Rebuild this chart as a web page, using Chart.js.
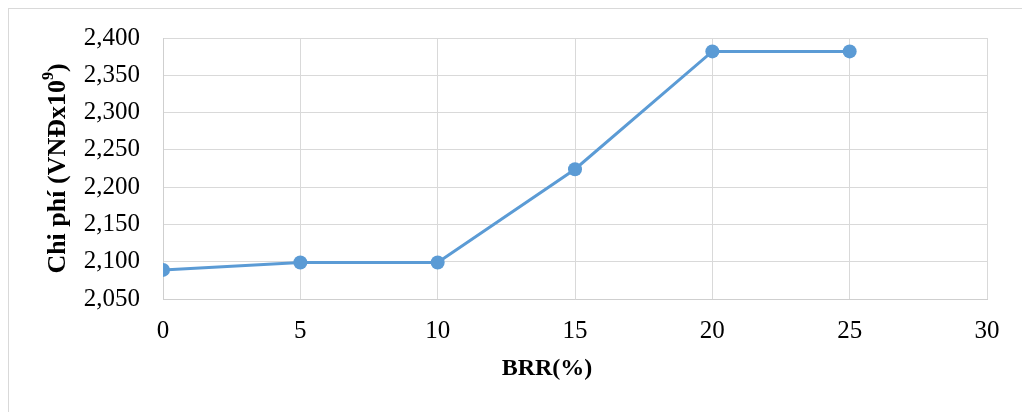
<!DOCTYPE html>
<html>
<head>
<meta charset="utf-8">
<script src="https://cdn.jsdelivr.net/npm/chart.js@4.4.0/dist/chart.umd.min.js"></script>
<style>
  html, body { margin: 0; padding: 0; background: #fff; }
  #wrap { position: relative; width: 1022px; height: 412px; overflow: hidden; }
  #frame { position: absolute; left: 8px; top: 8px; width: 1100px; height: 500px; border: 1px solid #d9d9d9; }
  canvas { position: absolute; left: 0; top: 0; }
</style>
</head>
<body>
<div id="wrap">
  <div id="frame"></div>
  <canvas id="chart" width="1022" height="412"></canvas>
</div>
<script>
const BRR = [0, 5, 10, 15, 20, 25];
const COST = [2089, 2099, 2099, 2224, 2382, 2382];
const X_TICKS = [0, 5, 10, 15, 20, 25, 30];
const Y_MIN = 2050, Y_MAX = 2400, Y_STEP = 50;

const LINE_COLOR = '#5b9bd5';
const GRID_COLOR = '#d9d9d9';
const SERIF = '"Liberation Serif", "Times New Roman", serif';

// axis titles drawn by hand so the superscript 9 and the offset can match
const axisTitles = {
  id: 'axisTitles',
  afterDraw(chart) {
    const ctx = chart.ctx;
    const area = chart.chartArea;
    ctx.save();
    ctx.fillStyle = '#000';
    ctx.textBaseline = 'middle';

    // x title
    ctx.font = 'bold 24px ' + SERIF;
    ctx.textAlign = 'center';
    ctx.fillText('BRR(%)', 547, 369);

    // y title, rotated
    ctx.translate(58, (area.top + area.bottom) / 2);
    ctx.rotate(-Math.PI / 2);
    const main = 'Chi phí (VNĐx10';
    const sup = '9';
    const tail = ')';
    ctx.font = 'bold 26px ' + SERIF;
    const wMain = ctx.measureText(main).width;
    const wTail = ctx.measureText(tail).width;
    ctx.font = 'bold 16px ' + SERIF;
    const wSup = ctx.measureText(sup).width;
    let x = -(wMain + wSup + wTail) / 2;
    ctx.textAlign = 'left';
    ctx.font = 'bold 26px ' + SERIF;
    ctx.fillText(main, x, 0);
    x += wMain;
    ctx.font = 'bold 16px ' + SERIF;
    ctx.fillText(sup, x, -9);
    x += wSup;
    ctx.font = 'bold 26px ' + SERIF;
    ctx.fillText(tail, x, 0);
    ctx.restore();
  }
};

new Chart(document.getElementById('chart').getContext('2d'), {
  type: 'scatter',
  data: {
    datasets: [{
      data: BRR.map((b, i) => ({ x: b, y: COST[i] })),
      showLine: true,
      borderColor: LINE_COLOR,
      backgroundColor: LINE_COLOR,
      borderWidth: 3,
      pointRadius: 7,
      pointBackgroundColor: LINE_COLOR,
      pointBorderWidth: 0,
      tension: 0
    }]
  },
  options: {
    responsive: false,
    animation: false,
    layout: { padding: { top: 37, right: 35, left: 0, bottom: 0 } },
    plugins: {
      legend: { display: false },
      tooltip: { enabled: false }
    },
    scales: {
      x: {
        type: 'linear',
        min: 0,
        max: 30,
        afterBuildTicks: scale => { scale.ticks = X_TICKS.map(v => ({ value: v })); },
        afterFit: scale => { scale.height = 113; },
        grid: { color: GRID_COLOR, drawTicks: false },
        border: { color: '#cfcfcf' },
        ticks: {
          color: '#000',
          padding: 17,
          maxRotation: 0,
          font: { family: SERIF, size: 25 }
        }
      },
      y: {
        min: Y_MIN,
        max: Y_MAX,
        afterFit: scale => { scale.width = 163; },
        grid: { color: GRID_COLOR, drawTicks: false },
        border: { color: '#cfcfcf' },
        ticks: {
          stepSize: Y_STEP,
          color: '#000',
          padding: 23,
          font: { family: SERIF, size: 25 },
          callback: v => v.toLocaleString('en-US')
        }
      }
    }
  },
  plugins: [axisTitles]
});
</script>
</body>
</html>
